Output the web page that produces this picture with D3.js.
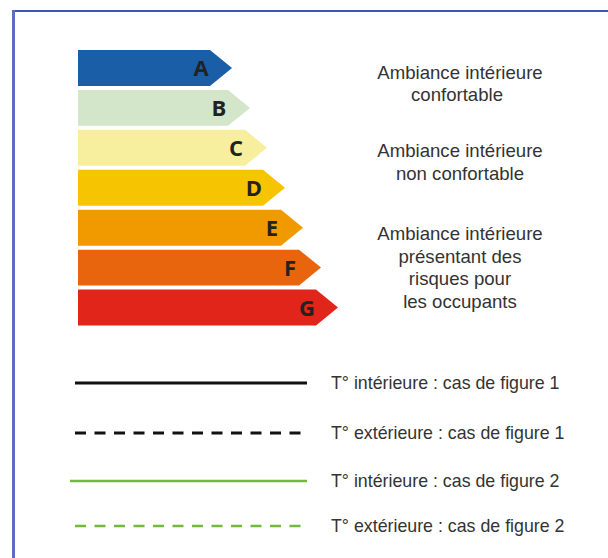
<!DOCTYPE html>
<html><head><meta charset="utf-8">
<script src="https://cdn.jsdelivr.net/npm/d3@7"></script>
<style>html,body{margin:0;padding:0;background:#fff;}svg{display:block;}</style>
</head><body>
<script>
// Data
const classes = ["A","B","C","D","E","F","G"];
const classLengths = [154, 172, 189, 207, 225, 243, 260]; // arrow length incl. tip
const classColors = ["#1a5ea8","#d3e6c9","#f7ef9e","#f6c400","#f19a00","#e8650e","#e1251b"];
const zoneLabels = [
  ["Ambiance intérieure","confortable"],
  ["Ambiance intérieure","non confortable"],
  ["Ambiance intérieure","présentant des","risques pour","les occupants"]
];
const legendLabels = ["T° intérieure : cas de figure 1","T° extérieure : cas de figure 1","T° intérieure : cas de figure 2","T° extérieure : cas de figure 2"];
const legendColors = ["#111111","#111111","#74b93e","#74b93e"];
const legendDashed = [false, true, false, true];

const W = 608, H = 558;
const svg = d3.select("body").append("svg").attr("width", W).attr("height", H);

// frame
svg.append("line").attr("x1",12).attr("x2",W).attr("y1",11).attr("y2",11).attr("stroke","#3d56b2").attr("stroke-width",2);
svg.append("line").attr("x1",13.5).attr("x2",13.5).attr("y1",10).attr("y2",H).attr("stroke","#5a6fc4").attr("stroke-width",3);

// scales
const x = d3.scaleLinear().domain([0, 260]).range([78, 338]);
const y = d3.scaleBand().domain(classes).range([50, 325.5]).paddingInner(0.1).paddingOuter(0);
const tip = 22;

const g = svg.append("g");
classes.forEach((c, i) => {
  const x0 = x(0), x1 = x(classLengths[i]);
  const y0 = y(c), h = y.bandwidth();
  const path = d3.path();
  path.moveTo(x0, y0);
  path.lineTo(x1 - tip, y0);
  path.lineTo(x1, y0 + h/2);
  path.lineTo(x1 - tip, y0 + h);
  path.lineTo(x0, y0 + h);
  path.closePath();
  g.append("path").attr("d", path.toString()).attr("fill", classColors[i]);
  g.append("text").attr("x", x1 - 31).attr("y", y0 + h/2 + 8)
    .attr("text-anchor","middle").attr("font-family","'Open Sans', sans-serif")
    .attr("font-weight","bold").attr("font-size",22).attr("fill","#222")
    .text(c);
});

// zone texts
const zoneFirstBaseline = [78.5, 157, 240];
const lineGap = 22.7;
zoneLabels.forEach((lines, zi) => {
  lines.forEach((t, li) => {
    svg.append("text").attr("x", (zi===0 && li===1) ? 457 : 460)
      .attr("y", zoneFirstBaseline[zi] + li*lineGap)
      .attr("text-anchor","middle")
      .attr("font-family","'Liberation Sans', Arial, sans-serif")
      .attr("font-size",18.6).attr("fill","#333")
      .text(t);
  });
});

// legend
const lyPos = [383, 433, 481, 526];
legendLabels.forEach((t, i) => {
  const yy = lyPos[i];
  const xs = (i === 2) ? 70 : 75;
  svg.append("line").attr("x1", xs).attr("x2", legendDashed[i] ? 305 : 307)
    .attr("y1", yy).attr("y2", yy)
    .attr("stroke", legendColors[i])
    .attr("stroke-width", i < 2 ? 3 : 2.6)
    .attr("stroke-dasharray", legendDashed[i] ? "11,8.5" : null);
  svg.append("text").attr("x", 331).attr("y", yy + 6)
    .attr("font-family","'Liberation Sans', Arial, sans-serif")
    .attr("font-size",17.8).attr("fill","#333")
    .text(t);
});
</script>
</body></html>
